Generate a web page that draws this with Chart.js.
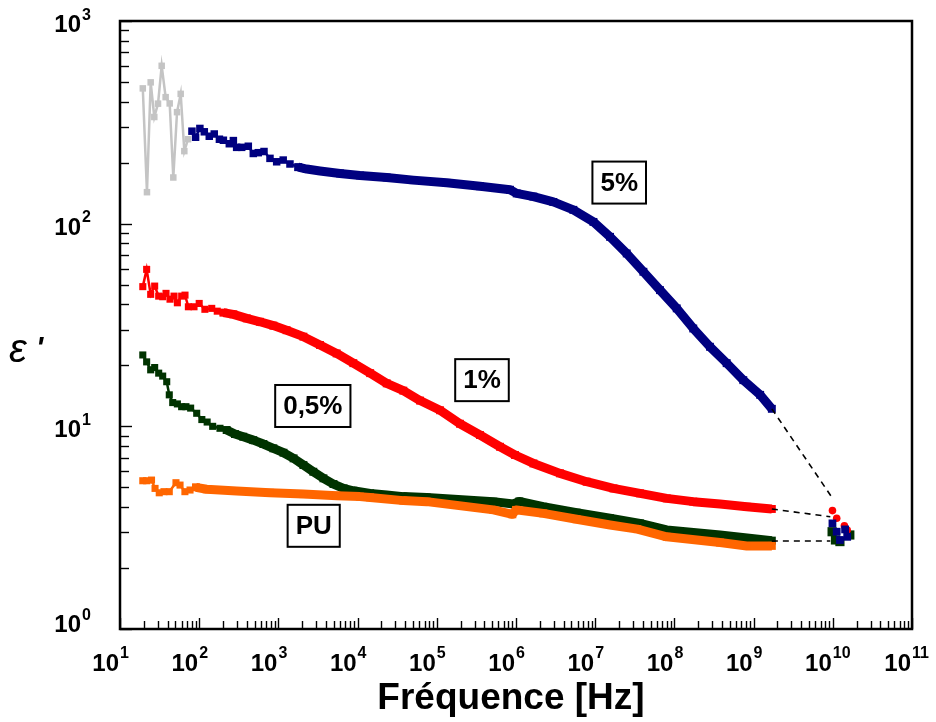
<!DOCTYPE html>
<html lang="fr">
<head>
    <meta charset="UTF-8">
    <title>Permittivité ε' en fonction de la fréquence</title>
    <script src="https://cdn.jsdelivr.net/npm/chart.js"></script>
    <style>
        html, body { margin: 0; padding: 0; background: #fff; }
        #wrap { width: 936px; height: 722px; }
    </style>
</head>
<body>
<div id="wrap"><canvas id="epsChart" width="936" height="722"></canvas></div>

<script>
    // ---- data (frequency in Hz, permittivity eps') ----

    // 5% : noisy low-frequency start (grey)
    const grayF = [19.4, 21.9, 24.4, 27.1, 30.2, 33.6, 37.7, 42.4, 47.1, 52.5, 58.4, 64.9, 72.3];
    const grayE = [465, 143, 498, 336, 391, 601, 421, 392, 169, 355, 437, 228, 261];

    // 5%
    const blueLowF = [81, 90, 102, 116, 134, 155, 180, 202, 240, 270, 297, 344, 417, 482, 557, 658, 783, 951, 1150, 1400, 1780];
    const blueLowE = [286, 267, 295, 284, 270, 277, 261, 258, 248, 257, 238, 238, 241, 222, 224, 227, 210, 202, 206, 197, 190];
    const blueHighF = [1780, 2280, 3350, 6000, 10700, 23300, 50500, 133000, 351000, 840000, 1.02e6, 1.66e6, 2.96e6, 5.3e6, 9.5e6, 1.54e7, 2.5e7, 4.06e7, 6.58e7, 1.07e8, 1.73e8, 2.81e8, 4.57e8, 7.41e8, 1.21e9, 1.7e9];
    const blueHighE = [190, 186, 182, 177, 173, 169, 164, 159, 153, 147, 141, 136, 128, 117, 102, 86.1, 71.3, 57.9, 47.0, 38.2, 30.4, 24.7, 20.5, 16.9, 14.3, 12.2];

    // 1%
    const redLowF = [19.4, 21.7, 24.4, 27.4, 30.8, 34.6, 38.1, 42.8, 48.1, 53, 60.1, 66.2, 73, 86, 100, 118, 144, 169, 202];
    const redLowE = [48.9, 59.5, 44.8, 49.2, 43.9, 43.6, 45.3, 42.4, 43.9, 40.7, 43.9, 44.4, 38.9, 38.9, 40.4, 37.8, 38.2, 37.0, 36.4];
    const redHighF = [202, 270, 398, 586, 864, 1270, 2070, 3350, 5440, 8830, 14400, 23300, 37800, 61400, 110000, 196000, 351000, 628000, 971000, 1.66e6, 3.6e6, 7.8e6, 1.7e7, 3.68e7, 8.0e7, 1.73e8, 3.77e8, 8.2e8, 1.7e9];
    const redHighE = [36.4, 35.7, 34.1, 32.8, 31.4, 29.8, 27.7, 25.2, 22.9, 20.5, 18.3, 16.3, 15.0, 13.4, 12.0, 10.3, 9.06, 7.93, 7.22, 6.56, 5.86, 5.33, 4.94, 4.67, 4.41, 4.25, 4.14, 4.01, 3.91];

    // 0,5%
    const greenLowF = [19.4, 21.7, 24.4, 27.4, 30.8, 34.6, 38.9, 41.9, 46.3, 53, 60, 68, 78, 93, 108, 126, 148, 183, 222];
    const greenLowE = [22.5, 20.8, 19.0, 19.5, 18.3, 17.7, 16.6, 14.3, 13.1, 12.9, 12.5, 12.5, 12.3, 11.6, 10.8, 10.5, 10.0, 9.78, 9.59];
    const greenHighF = [222, 283, 360, 482, 647, 864, 1160, 1555, 2070, 2760, 3700, 4960, 6650, 8830, 14400, 23300, 37800, 74600, 518000, 925000, 1.1e6, 2.21e6, 5.83e6, 1.54e7, 3.68e7, 8.0e7, 3.77e8, 1.7e9];
    const greenHighE = [9.59, 9.16, 8.89, 8.55, 8.18, 7.79, 7.41, 6.95, 6.44, 5.97, 5.54, 5.19, 4.94, 4.81, 4.67, 4.58, 4.50, 4.46, 4.25, 4.14, 4.26, 4.01, 3.75, 3.52, 3.32, 3.08, 2.91, 2.73];

    // PU
    const orangeLowF = [19.4, 21.7, 25, 27.7, 31.3, 35.9, 41.9, 50.9, 57.3, 66, 76.6, 91];
    const orangeLowE = [5.39, 5.39, 5.43, 4.94, 4.70, 4.76, 4.76, 5.27, 5.13, 4.76, 4.85, 5.00];
    const orangeHighF = [91, 124, 297, 783, 2070, 5440, 10700, 14400, 37800, 74600, 518000, 900000, 1.0e6, 2.21e6, 5.83e6, 1.54e7, 3.4e7, 8.0e7, 3.77e8, 8.2e8, 1.7e9];
    const orangeHighE = [5.00, 4.89, 4.80, 4.70, 4.63, 4.55, 4.50, 4.46, 4.30, 4.25, 3.87, 3.68, 3.87, 3.72, 3.48, 3.26, 3.11, 2.85, 2.67, 2.57, 2.57];

    // points measured around 10 GHz
    const blueClF = [9.9e9, 1.12e10, 1.23e10, 1.43e10, 1.52e10];
    const blueClE = [3.32, 3.02, 2.75, 3.10, 2.85];
    const redClF = [9.9e9, 1.12e10, 1.40e10, 1.52e10];
    const redClE = [3.84, 3.52, 3.23, 3.08];
    const greenClF = [9.8e9, 1.08e10, 1.23e10, 1.64e10];
    const greenClE = [3.02, 2.75, 2.70, 2.91];

    // dashed links between the two measurement ranges
    const dashBlueF = [1.7e9, 9.9e9];
    const dashBlueE = [12.2, 4.42];
    const dashRedF = [1.7e9, 9.3e9];
    const dashRedE = [3.91, 3.58];
    const dashGreenF = [1.7e9, 9.3e9];
    const dashGreenE = [2.72, 2.72];

    // axes
    const xExponents = [1, 2, 3, 4, 5, 6, 7, 8, 9, 10, 11];
    const yExponents = [0, 1, 2, 3];
    const minorSteps = [2, 3, 4, 5, 6, 7, 8, 9];

    // boxed labels
    const labelText = ['5%', '1%', '0,5%', 'PU'];
    const labelF = [2.01e7, 3.72e5, 2.72e3, 2.79e3];
    const labelE = [159.5, 16.9, 12.6, 3.23];

    const BLUE = '#000080', RED = '#ff0000', GREEN = '#003300', ORANGE = '#ff6600', GRAY = '#c4c4c4';

    const pts = (f, e) => f.map((v, i) => ({ x: v, y: e[i] }));

    function lowSet(f, e, color, order, r) {
        return {
            data: pts(f, e), showLine: true, borderColor: color, backgroundColor: color,
            borderWidth: 2.5, pointStyle: 'rect', pointRadius: r, pointBorderWidth: 0, order
        };
    }
    function bandSet(f, e, color, order) {
        return {
            data: pts(f, e), showLine: true, borderColor: color, backgroundColor: color,
            borderWidth: 9, borderJoinStyle: 'round', pointStyle: 'rect', pointRadius: 5.6,
            pointBorderWidth: 0, order
        };
    }
    function dashSet(f, e, order) {
        return {
            data: pts(f, e), showLine: true, borderColor: '#000', borderWidth: 1.6,
            borderDash: [6, 5], pointRadius: 0, order
        };
    }
    function clusterSet(f, e, color, style, r, order) {
        return {
            data: pts(f, e), showLine: false, borderColor: color, backgroundColor: color,
            pointStyle: style, pointRadius: r, pointBorderWidth: 0, order
        };
    }

    // draws the frame, inward ticks, 10^n labels, titles and boxed labels
    const axesPlugin = {
        id: 'axesFrame',
        afterDraw(chart) {
            const { ctx, chartArea: a, scales: { x, y } } = chart;
            ctx.save();
            ctx.strokeStyle = '#000';
            ctx.fillStyle = '#000';

            // ticks
            ctx.lineWidth = 1.4;
            xExponents.forEach(n => {
                const steps = n < 11 ? [1].concat(minorSteps) : [1];
                steps.forEach(m => {
                    const px = Math.round(x.getPixelForValue(m * Math.pow(10, n))) + 0.5;
                    const len = m === 1 ? 11 : 8;
                    ctx.beginPath();
                    ctx.moveTo(px, a.bottom);
                    ctx.lineTo(px, a.bottom - len);
                    ctx.stroke();
                });
            });
            yExponents.forEach(n => {
                const steps = n < 3 ? [1].concat(minorSteps) : [1];
                steps.forEach(m => {
                    const py = Math.round(y.getPixelForValue(m * Math.pow(10, n))) + 0.5;
                    const len = m === 1 ? 12 : 9;
                    ctx.beginPath();
                    ctx.moveTo(a.left, py);
                    ctx.lineTo(a.left + len, py);
                    ctx.stroke();
                });
            });

            // frame
            ctx.lineWidth = 2.5;
            ctx.strokeRect(a.left, a.top, a.right - a.left, a.bottom - a.top);

            // tick labels 10^n
            const big = 'bold 24px "Liberation Sans", Arial, sans-serif';
            const small = 'bold 16px "Liberation Sans", Arial, sans-serif';
            ctx.textBaseline = 'alphabetic';
            xExponents.forEach(n => {
                const px = x.getPixelForValue(Math.pow(10, n));
                ctx.font = big; ctx.textAlign = 'right';
                ctx.fillText('10', px - 1, 671);
                ctx.font = small; ctx.textAlign = 'left';
                ctx.fillText(String(n), px, 658);
            });
            yExponents.forEach(n => {
                const py = y.getPixelForValue(Math.pow(10, n));
                const base = Math.min(py + 11, 632);
                ctx.font = big; ctx.textAlign = 'right';
                ctx.fillText('10', 81, base);
                ctx.font = small; ctx.textAlign = 'left';
                ctx.fillText(String(n), 82, base - 12.5);
            });

            // axis titles
            ctx.font = 'bold 37px "Liberation Sans", Arial, sans-serif';
            ctx.textAlign = 'center';
            ctx.fillText('Fréquence [Hz]', 511, 709);
            ctx.textAlign = 'left';
            ctx.font = 'italic 40px "Liberation Sans", Arial, sans-serif';
            ctx.fillText('ε', 9, 362);
            ctx.font = 'italic bold 30px "Liberation Sans", Arial, sans-serif';
            ctx.fillText("'", 36, 357);

            // boxed series labels
            ctx.font = 'bold 26px "Liberation Sans", Arial, sans-serif';
            ctx.textAlign = 'center';
            ctx.textBaseline = 'middle';
            ctx.lineWidth = 2;
            labelText.forEach((t, i) => {
                const cx = x.getPixelForValue(labelF[i]);
                const cy = y.getPixelForValue(labelE[i]);
                const w = ctx.measureText(t).width + 16;
                const h = 42;
                ctx.fillStyle = '#fff';
                ctx.fillRect(cx - w / 2, cy - h / 2, w, h);
                ctx.strokeRect(cx - w / 2, cy - h / 2, w, h);
                ctx.fillStyle = '#000';
                ctx.fillText(t, cx, cy + 1);
            });
            ctx.restore();
        }
    };

    new Chart(document.getElementById('epsChart'), {
        type: 'scatter',
        data: {
            datasets: [
                clusterSet(blueClF, blueClE, BLUE, 'rect', 5.5, 0),
                clusterSet(redClF, redClE, RED, 'circle', 3.8, 1),
                clusterSet(greenClF, greenClE, GREEN, 'rect', 6.5, 2),
                dashSet(dashBlueF, dashBlueE, 3),
                dashSet(dashRedF, dashRedE, 3),
                dashSet(dashGreenF, dashGreenE, 3),
                lowSet(grayF, grayE, GRAY, 4, 4.6),
                lowSet(orangeLowF, orangeLowE, ORANGE, 5, 5),
                bandSet(orangeHighF, orangeHighE, ORANGE, 5),
                lowSet(greenLowF, greenLowE, GREEN, 6, 5),
                bandSet(greenHighF, greenHighE, GREEN, 6),
                lowSet(redLowF, redLowE, RED, 7, 5),
                bandSet(redHighF, redHighE, RED, 7),
                lowSet(blueLowF, blueLowE, BLUE, 8, 5.3),
                bandSet(blueHighF, blueHighE, BLUE, 8)
            ]
        },
        options: {
            responsive: false,
            animation: false,
            layout: { padding: { left: 120, top: 21, right: 24, bottom: 93 } },
            plugins: { legend: { display: false }, tooltip: { enabled: false } },
            scales: {
                x: { type: 'logarithmic', min: 10, max: 1e11, display: false },
                y: { type: 'logarithmic', min: 1, max: 1000, display: false }
            }
        },
        plugins: [axesPlugin]
    });
</script>
</body>
</html>
